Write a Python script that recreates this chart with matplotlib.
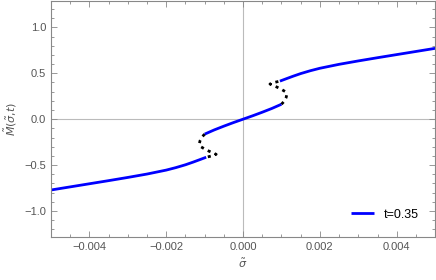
import matplotlib
matplotlib.use("Agg")
import matplotlib.pyplot as plt
from matplotlib.ticker import MultipleLocator

# Data (sigma, M)
upper_sigma = [0.00096, 0.0011, 0.0013, 0.0015, 0.00175, 0.0020, 0.0025, 0.0030,
               0.0035, 0.0040, 0.0045, 0.0050]
upper_M     = [0.415, 0.437, 0.468, 0.497, 0.528, 0.555, 0.598, 0.635,
               0.670, 0.704, 0.738, 0.772]

middle_sigma = [-0.00100, -0.00075, -0.0005, -0.00025, 0.0, 0.00025, 0.0005, 0.00075, 0.00100]
middle_M     = [-0.163, -0.117, -0.076, -0.037, 0.0, 0.037, 0.076, 0.117, 0.163]

unstable_up_sigma = [0.00100, 0.00107, 0.00112, 0.00114, 0.00110, 0.00100, 0.00088,
                     0.00077, 0.00070, 0.00076, 0.00086, 0.00096]
unstable_up_M     = [0.163, 0.195, 0.235, 0.270, 0.300, 0.325, 0.350,
                     0.370, 0.383, 0.395, 0.405, 0.415]

lower_sigma = [-s for s in upper_sigma]
lower_M = [-m for m in upper_M]
unstable_lo_sigma = [-s for s in unstable_up_sigma]
unstable_lo_M = [-m for m in unstable_up_M]

legend_label = "t=0.35"
xticks = [-0.004, -0.002, 0.0, 0.002, 0.004]
xticklabels = ['\u22120.004', '\u22120.002', '0.000', '0.002', '0.004']
yticks = [-1.0, -0.5, 0.0, 0.5, 1.0]
yticklabels = ['\u22121.0', '\u22120.5', '0.0', '0.5', '1.0']

plt.rcParams['font.family'] = ['Liberation Sans', 'DejaVu Sans']

fig = plt.figure(figsize=(4.36, 2.80), dpi=100)
ax = fig.add_axes([0.117, 0.154, 0.881, 0.844])

gray = '#888888'
ax.axhline(0, color='#bbbbbb', lw=0.8, zorder=0)
ax.axvline(0, color='#bbbbbb', lw=0.8, zorder=0)

blue = '#0000ff'
ax.plot(upper_sigma, upper_M, color=blue, lw=2, label=legend_label, solid_capstyle='butt')
ax.plot(middle_sigma, middle_M, color=blue, lw=2, solid_capstyle='butt')
ax.plot(lower_sigma, lower_M, color=blue, lw=2, solid_capstyle='butt')
ax.plot(unstable_up_sigma, unstable_up_M, color='black', lw=2, linestyle=(0, (1.1, 1.6)))
ax.plot(unstable_lo_sigma, unstable_lo_M, color='black', lw=2, linestyle=(0, (1.1, 1.6)))

ax.set_xlim(-0.005, 0.005)
ax.set_ylim(-1.283, 1.293)
ax.set_xticks(xticks)
ax.set_xticklabels(xticklabels)
ax.set_yticks(yticks)
ax.set_yticklabels(yticklabels)
ax.xaxis.set_minor_locator(MultipleLocator(0.0005))
ax.yaxis.set_minor_locator(MultipleLocator(0.1))

for sp in ax.spines.values():
    sp.set_color(gray)
    sp.set_linewidth(0.8)
ax.tick_params(which='both', direction='in', top=True, right=True, color=gray,
               labelcolor='#555555', labelsize=8, width=0.6)
ax.tick_params(which='major', length=4)
ax.tick_params(which='minor', length=2.5)

ax.set_xlabel(r'$\tilde{\sigma}$', color='#555555', fontsize=8)
ax.set_ylabel(r'$\tilde{M}(\tilde{\sigma}{,}t)$', color='#555555', fontsize=8, labelpad=4)

leg = ax.legend(loc='lower right', frameon=False, fontsize=9, handlelength=1.8,
                borderaxespad=0.9)

fig.savefig('out.png', dpi=100)
